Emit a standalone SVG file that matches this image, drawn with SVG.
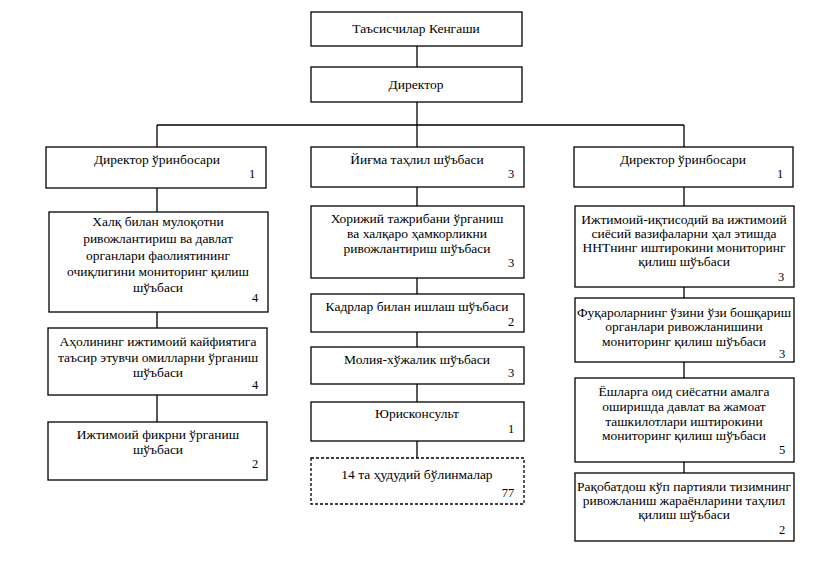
<svg xmlns="http://www.w3.org/2000/svg" width="840" height="566" viewBox="0 0 840 566">
<style>
.b{fill:#fff;stroke:#000;stroke-width:1.3}
.d{fill:#fff;stroke:#000;stroke-width:1.3;stroke-dasharray:3 2}
text{font-family:'Liberation Serif','DejaVu Serif','Noto Serif','Tinos',serif}
.t{font-size:13.5px;fill:#000;text-anchor:middle}
.n{font-size:12.5px;fill:#000;text-anchor:middle}
.c{stroke:#000;stroke-width:1.3;fill:none}
</style>
<rect width="840" height="566" fill="#fff"/>
<g id="connectors" class="c">
<path d="M417 45V67M417 102V125M157 125H684M157 125V147M417 125V147M684 125V147"/>
<path d="M157 188V212M157 312V328M157 395V422"/>
<path d="M417 187V206M417 278V294M417 332V347M417 384V402M417 441V458"/>
<path d="M684 187V206M684 287V298M684 362V378M684 462V473"/>
</g>
<g id="n-council"><rect class="b" x="311" y="12" width="211" height="34"/><text class="t" x="416" y="33">Таъсисчилар Кенгаши</text></g>
<g id="n-director"><rect class="b" x="311" y="67" width="211" height="35"/><text class="t" x="416" y="89">Директор</text></g>

<g id="n-left1"><rect class="b" x="46" y="147" width="220" height="41"/><text class="t" x="157" y="164">Директор ўринбосари</text><text class="n" x="252" y="178">1</text></g>
<g id="n-left2"><rect class="b" x="49" y="212" width="219" height="100"/><text class="t" x="158"><tspan x="158" y="226">Халқ билан мулоқотни</tspan><tspan x="158" y="243">ривожлантириш ва давлат</tspan><tspan x="158" y="260">органлари фаолиятининг</tspan><tspan x="158" y="276">очиқлигини мониторинг қилиш</tspan><tspan x="158" y="292">шўъбаси</tspan></text><text class="n" x="255" y="302">4</text></g>
<g id="n-left3"><rect class="b" x="48" y="328" width="219" height="67"/><text class="t" x="158"><tspan x="158" y="346">Аҳолининг ижтимоий кайфиятига</tspan><tspan x="158" y="362">таъсир этувчи омилларни ўрганиш</tspan><tspan x="158" y="377">шўъбаси</tspan></text><text class="n" x="255" y="389">4</text></g>
<g id="n-left4"><rect class="b" x="48" y="422" width="219" height="58"/><text class="t" x="158"><tspan x="158" y="439">Ижтимоий фикрни ўрганиш</tspan><tspan x="158" y="454">шўъбаси</tspan></text><text class="n" x="255" y="468">2</text></g>

<g id="n-mid1"><rect class="b" x="311" y="147" width="213" height="40"/><text class="t" x="417" y="164">Йиғма таҳлил шўъбаси</text><text class="n" x="511" y="178">3</text></g>
<g id="n-mid2"><rect class="b" x="311" y="206" width="213" height="72"/><text class="t" x="417"><tspan x="417" y="223">Хорижий тажрибани ўрганиш</tspan><tspan x="417" y="238">ва халқаро ҳамкорликни</tspan><tspan x="417" y="253">ривожлантириш шўъбаси</tspan></text><text class="n" x="511" y="267">3</text></g>
<g id="n-mid3"><rect class="b" x="311" y="294" width="213" height="38"/><text class="t" x="417" y="311">Кадрлар билан ишлаш шўъбаси</text><text class="n" x="511" y="326">2</text></g>
<g id="n-mid4"><rect class="b" x="311" y="347" width="213" height="37"/><text class="t" x="417" y="364">Молия-хўжалик шўъбаси</text><text class="n" x="511" y="377">3</text></g>
<g id="n-mid5"><rect class="b" x="311" y="402" width="213" height="39"/><text class="t" x="417" y="418">Юрисконсульт</text><text class="n" x="511" y="433">1</text></g>
<g id="n-mid6"><rect class="d" x="311" y="458" width="213" height="46"/><text class="t" x="417" y="479">14 та ҳудудий бўлинмалар</text><text class="n" x="508" y="497">77</text></g>

<g id="n-right1"><rect class="b" x="574" y="147" width="219" height="40"/><text class="t" x="683" y="164">Директор ўринбосари</text><text class="n" x="780" y="178">1</text></g>
<g id="n-right2"><rect class="b" x="575" y="206" width="219" height="81"/><text class="t" x="684"><tspan x="684" y="224">Ижтимоий-иқтисодий ва ижтимоий</tspan><tspan x="684" y="238">сиёсий вазифаларни ҳал этишда</tspan><tspan x="684" y="252">ННТнинг иштирокини мониторинг</tspan><tspan x="684" y="266">қилиш шўъбаси</tspan></text><text class="n" x="781" y="281">3</text></g>
<g id="n-right3"><rect class="b" x="575" y="298" width="219" height="64"/><text class="t" x="684"><tspan x="684" y="317">Фуқароларнинг ўзини ўзи бошқариш</tspan><tspan x="684" y="331">органлари ривожланишини</tspan><tspan x="684" y="346">мониторинг қилиш шўъбаси</tspan></text><text class="n" x="782" y="358">3</text></g>
<g id="n-right4"><rect class="b" x="575" y="378" width="219" height="84"/><text class="t" x="684"><tspan x="684" y="396">Ёшларга оид сиёсатни амалга</tspan><tspan x="684" y="411">оширишда давлат ва жамоат</tspan><tspan x="684" y="426">ташкилотлари иштирокини</tspan><tspan x="684" y="440">мониторинг қилиш шўъбаси</tspan></text><text class="n" x="782" y="454">5</text></g>
<g id="n-right5"><rect class="b" x="575" y="473" width="219" height="68"/><text class="t" x="684"><tspan x="684" y="491">Рақобатдош кўп партияли тизимнинг</tspan><tspan x="684" y="505">ривожланиш жараёнларини таҳлил</tspan><tspan x="684" y="519">қилиш шўъбаси</tspan></text><text class="n" x="782" y="534">2</text></g>
</svg>
